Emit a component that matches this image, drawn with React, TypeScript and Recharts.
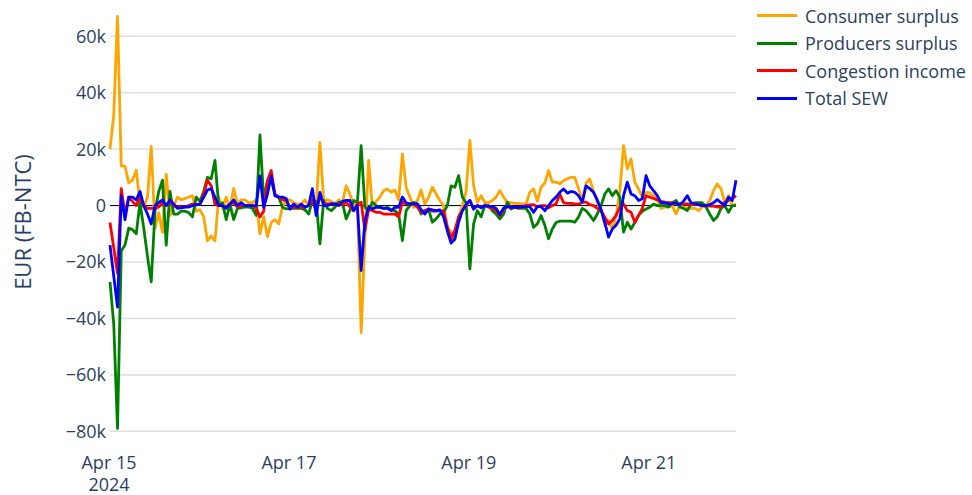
import { LineChart, Line, XAxis, YAxis, CartesianGrid, ReferenceLine } from 'recharts'

// hourly values, EUR thousands, Apr 15 00:00 .. Apr 21 23:00
const consumerSurplus = [
  20, 32, 67, 14, 14, 8, 9, 12.5, 1, -0.5, 3, 21,
  -8, -2.5, -9.5, 11, -3.5, 0, 3, 2, 2.5, 3, 3.5, -2,
  -1.5, -4, -12.5, -10.7, -12.5, 3, -1, 3, -1, 6, 0.5, 2,
  2, 1, 1, 2, -10, -4, -11, -6, -5, -6.5, -0.5, 2,
  2, 1, 0.5, 0.5, 2, 0, 2, -0.6, 22.4, 1.8, 2, 1.5,
  0.5, 2, 1, 7, 4, 0, 0.5, -45, -12, 16, -0.6, 1.5,
  3, 5.3, 5.9, 4.7, 5.5, 2, 18.3, 6.5, 3, -0.6, 1.8, 5.5,
  0.6, 3, 6.5, 4.1, 1.8, 0, -7.7, -9.4, -12.4, -4, 0, 5,
  23, 7, 1.2, 3.5, 1, 1, 1.8, 3, 5.3, 3, 1, 1,
  0.8, 0.8, 0.6, 0.6, 4.7, 5.9, 1.5, 6.5, 8, 12.4, 8.3, 8.3,
  7.7, 8.8, 9.5, 10, 10, 6, 2, 8, 9.4, 5, 1, -1.2,
  -7, -5.3, -8.3, -4, 5, 21.2, 13, 16.5, 8.3, 5.9, 3, 4.7,
  4.5, 3.5, 2, -1, -0.5, -0.5, 0, -3, 0, -0.5, -1, -1,
  -1, -1.8, -0.5, 0, 1.8, 5.3, 7.7, 5.9, 1.2, 3.5, 0, 0.5,
]

const producersSurplus = [
  -27, -42, -79, -16, -14, -8, -8.5, -10, 1, -8, -18, -27,
  -2, 5, 9, -14, 5, -3, -3, -2, -2, -2.5, -4, 3,
  1.5, 5, 10, 9.5, 16, 0, 1, -5, 0.5, -5, -1, -0.8,
  -0.5, -0.5, -1, -3.5, 25, 2, 8.8, 9.4, 4, 3, -0.6, -1.2,
  -1, -1, -1, -1, -1.5, -3, 1.8, 1.5, -13.6, 1.8, -1, -1.8,
  -0.6, 1.2, 1, -4.7, -1.8, 1.8, 1, 21.2, -0.6, -1.8, 1.2, 0,
  -0.6, -1, -0.6, -1.5, -1.8, -3, -12.4, -1.8, 0, 1.2, 0.5, -3,
  -1.8, -1.5, -5.9, -4.7, -3, -2.4, 0, 7, 6.5, 10.6, 3, 1,
  -22.4, -6.5, -1.8, -4, 0, 0, -1.8, -3, -4.7, -3, 1.2, -1.2,
  -0.6, -1, -1, -1, -3, -7.7, -6.5, -3.5, -7, -11.8, -8.3, -6,
  -5.5, -5.5, -5.5, -5.5, -5.9, -4, -1, -1.8, -3.5, -5.3, -3, 0,
  4.1, 5.9, 3.5, 5.3, 3, -9.4, -5.9, -8.3, -6, -3.5, -2, -1.2,
  -0.6, 0.5, 0, 0, 0, -0.5, 1, 1.8, -0.5, -1, -1.8, 0.5,
  1, 1, 1, -0.5, -3, -5.3, -4, -1, 0, -2.4, 0, 0,
]

const congestionIncome = [
  -6, -15, -24, 6, -3, 3, 1.5, 0, 3, 0, -1, -1,
  -1, -0.5, 1, 0, 1.5, 0, -0.5, -0.5, -0.5, 0, 0.5, 0.3,
  0.5, 4, 9, 7, 0.5, 0, 0, -0.5, 0.5, 1, -0.5, 0,
  0, 0, 0, -1, -4, -2, 8.8, 12.4, 4, 3, 2, 1.8,
  -1.2, -0.6, -0.6, -0.6, -0.6, 0, 2, -1.8, 3.5, 0.6, 0.6, 0.6,
  0.6, 0.6, 0.3, 1.2, -0.5, -1.8, 0.6, 1.2, -8.8, -1.2, -1.8, -2.4,
  -2.4, -3, -3, -3, -3, -4, 1.2, 0.6, 0.6, 0.6, -0.6, -2.4,
  -1.8, -1.2, -2, -2, -1.8, -2, -7.7, -11.8, -8.8, -4, -1.8, 0,
  1.8, -1.2, 0, -0.6, 0, -0.6, -1, -1.8, -3.5, -1.2, -0.4, -0.6,
  -0.6, -0.8, -0.4, 0, 0.2, 0.3, -0.4, 0, 0, -0.8, 0, 0.6,
  4.1, 1, 0.8, 0.8, 0.6, 0.5, 1.2, 1.2, 0.3, 0, -1, -1.8,
  -4.1, -6.5, -5.3, -3.5, -0.6, 0.6, -1.8, -2.4, -5.9, -3.5, -1, 3.5,
  3, 2.5, 2, 1.5, 1.2, 1, 1, 0.8, 0.6, 0.6, 0.6, 0.3,
  0.3, 0.3, 0, 0, -0.2, -0.2, -0.5, -0.5, 1.2, 1.8, 2.5, 3.5,
]

const totalSew = [
  -14, -25, -36, 3.5, -5, 3, 3, 2, 5, 0, -3, -6.5,
  0, 1, 2, 0, 2, 0.5, -1, -0.8, -0.5, -0.5, 0, 0.3,
  0.5, 3, 5.5, 6, 3, 0, 0, -1, 0.5, 2, 0, 1,
  0, 0, 0, 0, 10.5, -0.6, 4, 10.6, 3.5, 3, 3, 2.5,
  -1.2, 0.5, -0.6, 0.5, -0.6, 0, 6, -3.5, 4.7, 0, 0, 0.6,
  0.6, 0, 1.5, 1.8, 1.8, -1.8, 0, -23, -5.3, -0.6, -1.2, -0.6,
  -0.6, -1, -1, -1.8, -0.6, -0.6, 3, 1, 0.6, 0.6, 0.6, -1.5,
  -3, -1.2, -1.5, -1.8, -1.5, -4, -9, -13.3, -11.8, -5.9, -1.8, 0.5,
  1.8, -1.2, 0, -0.8, 0, -0.3, -0.3, -1, -3.2, -0.8, -0.4, -0.6,
  -0.6, -0.6, -0.4, -0.4, -0.4, -2.4, -0.4, -0.4, -1.8, 0, 1.8, 3,
  4.7, 5.9, 4.4, 5, 4.7, 3.5, 1.2, 7, 6, 4.7, 2, -1.5,
  -6, -11.2, -8.3, -7, -4.7, 3.5, 8.3, 4.1, 3.5, 1.8, 2.4, 10.6,
  7, 5.3, 3.5, 1, 1, 0.6, 0.6, 1, 0.3, 1.5, 3.5, 1,
  0.6, 0.3, 0, 0, 0.3, 1, 2.1, 1, 0, 3, 1.8, 9,
]

const seriesKeys = ['consumer', 'producers', 'congestion', 'total']
const seriesNames = ['Consumer surplus', 'Producers surplus', 'Congestion income', 'Total SEW']
const seriesColors = ['#ffa500', '#008000', '#ff0000', '#0000ff']

const dayTicks = [0, 48, 96, 144]
const dayLabels = ['Apr 15', 'Apr 17', 'Apr 19', 'Apr 21']
const yearLabel = '2024'
const yTicks = [-80, -60, -40, -20, 0, 20, 40, 60]

const rows = consumerSurplus.map((v, i) => ({
  hour: i,
  consumer: v,
  producers: producersSurplus[i],
  congestion: congestionIncome[i],
  total: totalSew[i],
}))

const textColor = '#2a3f5f'

const formatK = (v: number) => (v === 0 ? '0' : `${v < 0 ? '\u2212' : ''}${Math.abs(v)}k`)

function DayTick({ x, y, payload }: any) {
  const i = dayTicks.indexOf(payload.value)
  return (
    <g>
      <text x={x - 1} y={y + 32} textAnchor="middle" fill={textColor} fontSize={18}>
        {dayLabels[i]}
      </text>
      {i === 0 && (
        <text x={x - 1} y={y + 54} textAnchor="middle" fill={textColor} fontSize={18}>
          {yearLabel}
        </text>
      )}
    </g>
  )
}

export default function App() {
  return (
    <div
      style={{
        position: 'absolute',
        left: 0,
        top: 0,
        width: 972,
        height: 495,
        background: '#fff',
        fontFamily: '"Open Sans", sans-serif',
      }}
    >
      <LineChart width={972} height={495} data={rows} margin={{ top: 8, right: 236, bottom: 0, left: 0 }}>
        <CartesianGrid vertical={false} horizontalValues={yTicks} stroke="#dedede" strokeWidth={1.5} />
        <XAxis
          dataKey="hour"
          type="number"
          domain={[0, 167]}
          ticks={dayTicks}
          height={58}
          axisLine={false}
          tickLine={false}
          tickSize={0}
          tickMargin={0}
          tick={<DayTick />}
          interval={0}
        />
        <YAxis
          domain={[-82, 70]}
          ticks={yTicks}
          width={110}
          axisLine={false}
          tickLine={false}
          tickSize={4}
          tickMargin={0}
          tickFormatter={formatK}
          tick={{ fill: textColor, fontSize: 18 }}
          interval={0}
        />
        <ReferenceLine y={0} stroke="#000" strokeWidth={1} />
        {seriesKeys.map((key, i) => (
          <Line
            key={key}
            type="linear"
            dataKey={key}
            name={seriesNames[i]}
            stroke={seriesColors[i]}
            strokeWidth={2.8}
            strokeLinejoin="round"
            dot={false}
            isAnimationActive={false}
          />
        ))}
      </LineChart>

      <div
        style={{
          position: 'absolute',
          left: 22,
          top: 222,
          transform: 'translate(-50%, -50%) rotate(-90deg)',
          whiteSpace: 'nowrap',
          fontSize: 22,
          color: textColor,
        }}
      >
        EUR (FB-NTC)
      </div>

      <div style={{ position: 'absolute', left: 757, top: 2 }}>
        {seriesNames.map((name, i) => (
          <div key={name} style={{ display: 'flex', alignItems: 'center', height: 27.5 }}>
            <div style={{ width: 40, height: 3, background: seriesColors[i], marginRight: 8 }} />
            <span style={{ fontSize: 18, color: textColor, whiteSpace: 'nowrap' }}>{name}</span>
          </div>
        ))}
      </div>
    </div>
  )
}
